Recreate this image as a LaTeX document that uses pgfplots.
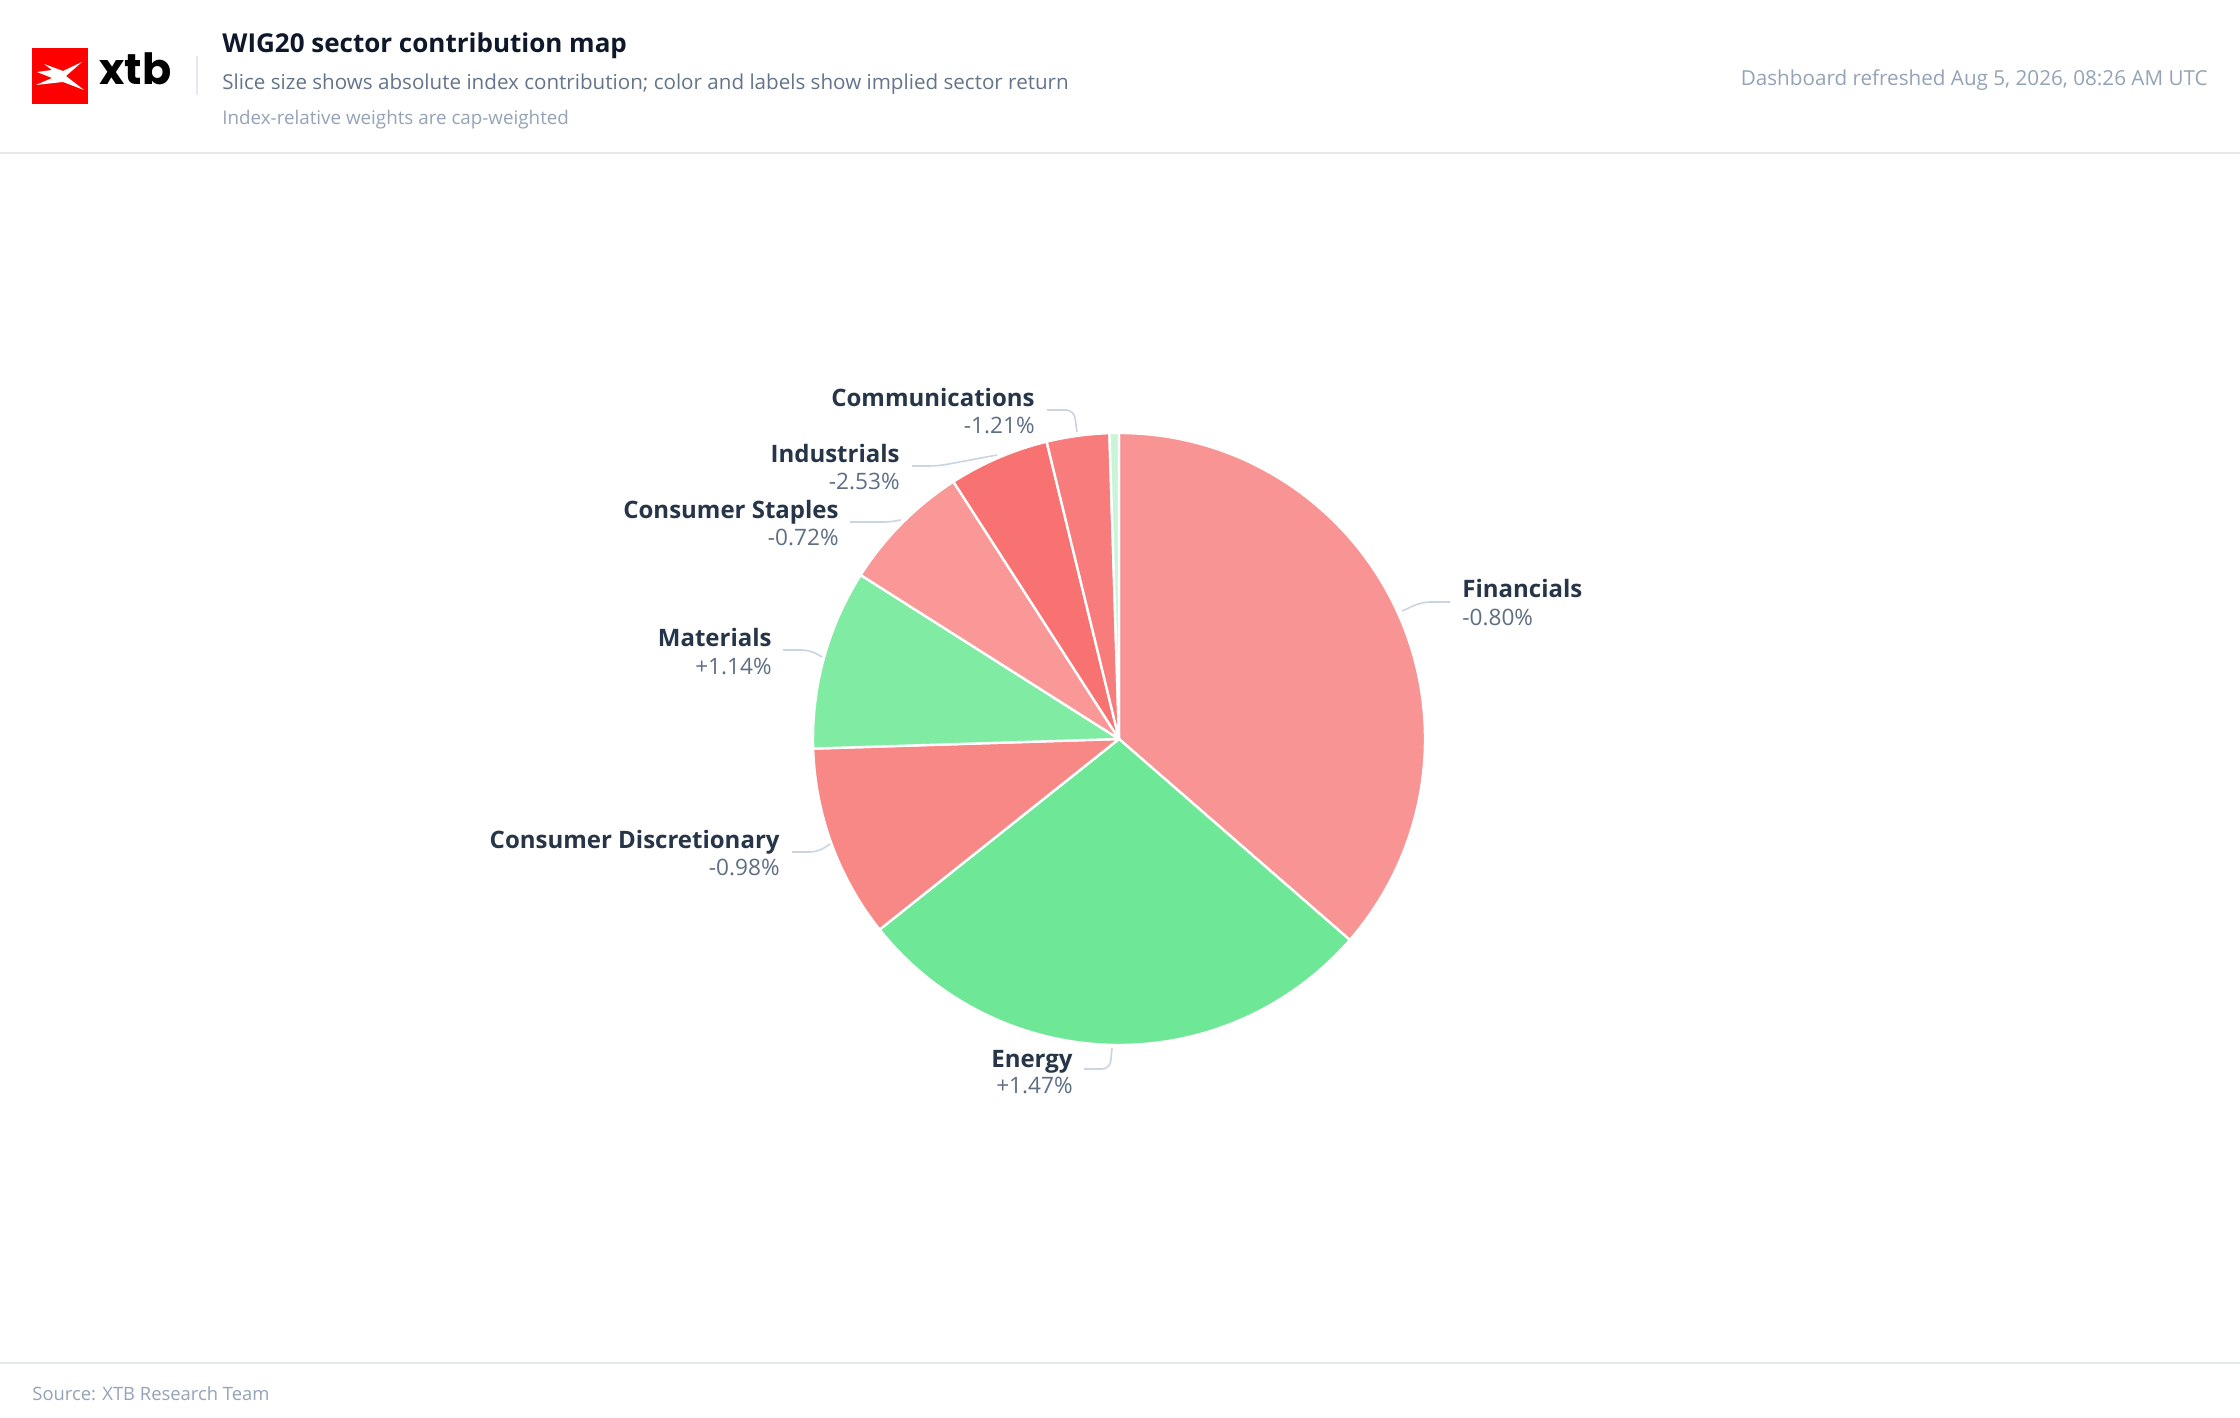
\documentclass[border=0pt]{standalone}
\usepackage{pgfplots}
\pgfplotsset{compat=1.18}
\usepackage{pgfplotstable}
\usepackage{fontspec}
\setmainfont{Open Sans}
\newfontfamily\logofont{Poppins}
\definecolor{cFin}{HTML}{F99494}
\definecolor{cEne}{HTML}{6EE797}
\definecolor{cCD}{HTML}{F88886}
\definecolor{cMat}{HTML}{80EBA2}
\definecolor{cCS}{HTML}{F99896}
\definecolor{cInd}{HTML}{F87272}
\definecolor{cCom}{HTML}{F87C7C}
\definecolor{cOth}{HTML}{C8F5D7}
\definecolor{titlec}{HTML}{0F172A}
\definecolor{subc}{HTML}{64748B}
\definecolor{notec}{HTML}{94A3B8}
\definecolor{rulec}{HTML}{E2E8F0}
\definecolor{namec}{HTML}{273549}
\definecolor{valc}{HTML}{5E6E85}
\definecolor{leadc}{HTML}{CBD5E1}
\definecolor{xtbred}{HTML}{FF0000}
% sector share of absolute index contribution (%), clockwise from 12 o'clock
\pgfplotstableread{
idx value col
0 36.4 cFin
1 27.9 cEne
2 10.2 cCD
3 9.5 cMat
4 6.9 cCS
5 5.3 cInd
6 3.3 cCom
7 0.5 cOth
}\pietable
\newcommand\fs[1]{\fontsize{#1}{#1}\selectfont}
\begin{document}
\begin{tikzpicture}
\begin{scope}[x=0.5pt,y=-0.5pt]
\path[use as bounding box, fill=white] (0,0) rectangle (2240,1418);
% logo
\fill[xtbred] (32,48) rectangle (88,104);
\fill[white] (37,72) -- (52,70) -- (44,64) -- (63,71) -- (82,62) -- (66,76) -- (84,90) -- (63,82) -- (36,85) -- (52,78) -- cycle;
\node[anchor=base west, inner sep=0pt, font=\logofont\bfseries\fs{21.5pt}] at (99,85) {xtb};
\draw[rulec, line width=1pt] (197,56) -- (197,95);
% header text
\node[anchor=base west, inner sep=0pt, text=titlec, font=\bfseries\fs{13pt}] at (222,53) {WIG20 sector contribution map};
\node[anchor=base west, inner sep=0pt, text=subc, font=\fs{10.3pt}] at (222,90) {Slice size shows absolute index contribution; color and labels show implied sector return};
\node[anchor=base west, inner sep=0pt, text=notec, font=\fs{9.4pt}] at (222,125) {Index-relative weights are cap-weighted};
\node[anchor=base east, inner sep=0pt, text=notec, font=\fs{10.33pt}] at (2208,86) {Dashboard refreshed Aug 5, 2026, 08:26 AM UTC};
\draw[rulec, line width=1pt] (0,153) -- (2240,153);
\draw[rulec, line width=1pt] (0,1363) -- (2240,1363);
\node[anchor=base west, inner sep=0pt, text=notec, font=\fs{9.2pt}] at (32,1400) {Source: XTB Research Team};
\end{scope}
\begin{axis}[at={(559.5pt,-369.5pt)}, anchor=center, hide axis, scale only axis,
  x=153pt, y=153pt, xmin=-1, xmax=1, ymin=-1, ymax=1, clip=false]
\xdef\astart{90}
\pgfplotsinvokeforeach{0,...,7}{
  \pgfplotstablegetelem{#1}{value}\of\pietable \let\v=\pgfplotsretval
  \pgfplotstablegetelem{#1}{col}\of\pietable \let\c=\pgfplotsretval
  \pgfmathsetmacro\aend{\astart-3.6*\v}
  \edef\tmp{\noexpand\fill[\c, draw=white, line width=1.2pt, line join=round] (axis cs:0,0) -- ++(\astart:153pt) arc[start angle=\astart, end angle=\aend, radius=153pt] -- cycle;}
  \tmp
  \xdef\astart{\aend}
}
\end{axis}
\begin{scope}[x=0.5pt,y=-0.5pt]
\begin{scope}[leadc, line width=0.8pt, rounded corners=4pt]
\draw (1047,410) -- (1074,410) -- (1077,432);
\draw (912,466) -- (938,466) -- (997,455);
\draw (850,522) -- (893,522) -- (900,520);
\draw (783,650) -- (810,650) -- (822,657);
\draw (792,852) -- (818,852) -- (830,844);
\draw (1084,1069) -- (1110,1069) -- (1112,1048);
\draw (1450,602) -- (1422,602) -- (1402,611);
\end{scope}
\tikzset{nm/.style={inner sep=0pt, text=namec, font=\bfseries\fs{12pt}},
         vl/.style={inner sep=0pt, text=valc, font=\fs{11.3pt}}}
\node[nm, anchor=base east] at (1035,406) {Communications};
\node[vl, anchor=base east] at (1035,433) {-1.21\%};
\node[nm, anchor=base east] at (900,462) {Industrials};
\node[vl, anchor=base east] at (900,489) {-2.53\%};
\node[nm, anchor=base east] at (839,518) {Consumer Staples};
\node[vl, anchor=base east] at (839,545) {-0.72\%};
\node[nm, anchor=base east] at (772,646) {Materials};
\node[vl, anchor=base east] at (772,674) {+1.14\%};
\node[nm, anchor=base east] at (780,848) {Consumer Discretionary};
\node[vl, anchor=base east] at (780,875) {-0.98\%};
\node[nm, anchor=base east] at (1073,1067) {Energy};
\node[vl, anchor=base east] at (1073,1093) {+1.47\%};
\node[nm, anchor=base west] at (1462,597) {Financials};
\node[vl, anchor=base west] at (1462,625) {-0.80\%};
\end{scope}
\end{tikzpicture}
\end{document}
